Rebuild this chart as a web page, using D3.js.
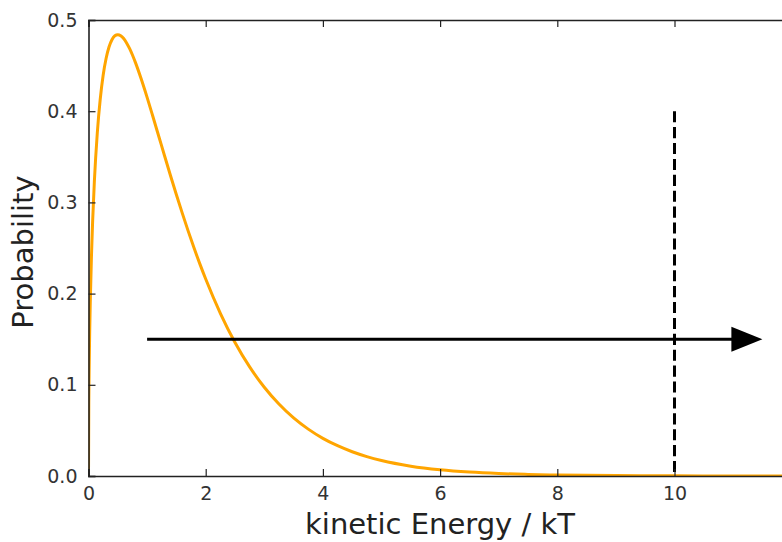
<!DOCTYPE html>
<html><head><meta charset="utf-8">
<script src="https://cdn.jsdelivr.net/npm/d3@7"></script>
<style>
html,body{margin:0;padding:0;background:#fff;}
svg{display:block;font-family:"DejaVu Sans",sans-serif;}
</style></head>
<body>
<svg id="chart" width="782" height="542"></svg>
<script>
// Energy (kT) values and read-off probabilities
const energy = [0,0.005,0.01,0.02,0.03,0.05,0.07,0.1,0.15,0.2,0.25,0.3,0.35,0.4,0.45,0.5,0.55,0.6,0.65,0.7,0.75,0.8,0.9,1.0,1.1,1.2,1.3,1.4,1.5,1.6,1.7,1.8,1.9,2.0,2.25,2.5,2.75,3.0,3.25,3.5,3.75,4.0,4.25,4.5,4.75,5.0,5.5,6.0,6.5,7.0,7.5,8.0,9.0,10.0,11.0,12.0];
const probability = [0,0.0794,0.1117,0.1564,0.1897,0.2400,0.2784,0.3229,0.3761,0.4131,0.4394,0.4578,0.4704,0.4784,0.4827,0.4839,0.4828,0.4797,0.4749,0.4688,0.4616,0.4535,0.4352,0.4151,0.3939,0.3723,0.3506,0.3292,0.3084,0.2882,0.2688,0.2502,0.2326,0.2160,0.1784,0.1464,0.1196,0.0973,0.0789,0.0637,0.0514,0.0413,0.0332,0.0266,0.0213,0.0170,0.0108,0.00685,0.00433,0.00272,0.00171,0.00107,0.00042,0.00016,0.00006,0.00002];
const xTicks = [0,2,4,6,8,10];
const yTicks = [0.0,0.1,0.2,0.3,0.4,0.5];
const arrowStart = [1, 0.15];
const arrowEnd = [11.5, 0.15];
const thresholdX = 10;
const thresholdTop = 0.4;

(function(){
const svg = d3.select("#chart");
const mLeft = 88.5, mTop = 20, mBottom = 476;
const x = d3.scaleLinear().domain([0,12]).range([mLeft, mLeft + 12*58.6]);
const y = d3.scaleLinear().domain([0,0.5]).range([mBottom, mTop]);
const W = x(12);

const defs = svg.append("defs");
defs.append("clipPath").attr("id","clip").append("rect")
  .attr("x",mLeft).attr("y",mTop).attr("width",W-mLeft).attr("height",mBottom-mTop);

// curve
svg.append("path")
  .datum(energy.map((e,i)=>[e,probability[i]]))
  .attr("clip-path","url(#clip)")
  .attr("fill","none").attr("stroke","#FFA500").attr("stroke-width",3)
  .attr("stroke-linejoin","round")
  .attr("d", d3.line().x(d=>x(d[0])).y(d=>y(d[1])).curve(d3.curveMonotoneX));

// dashed threshold line (drawn top-down like the reference)
svg.append("line")
  .attr("x1",x(thresholdX)).attr("x2",x(thresholdX))
  .attr("y1",y(thresholdTop)).attr("y2",y(0))
  .attr("stroke","#000").attr("stroke-width",3)
  .attr("stroke-dasharray","11.1,4.8");

// arrow
const headLen = 31, headHalf = 12.5;
const ax0 = x(arrowStart[0]), ax1 = x(arrowEnd[0]), ay = y(arrowStart[1]);
svg.append("line")
  .attr("x1",ax0).attr("x2",ax1-headLen+2).attr("y1",ay).attr("y2",ay)
  .attr("stroke","#000").attr("stroke-width",3);
svg.append("path")
  .attr("d",`M${ax1},${ay} L${ax1-headLen},${ay-headHalf} L${ax1-headLen},${ay+headHalf} Z`)
  .attr("fill","#000");

// axes (ticks inside)
const tickCol = "#333";
const xAxisB = svg.append("g").attr("transform",`translate(0,${mBottom})`)
  .call(d3.axisBottom(x).tickValues(xTicks).tickSize(-7).tickPadding(11).tickFormat(d3.format("d")));
const xAxisT = svg.append("g").attr("transform",`translate(0,${mTop})`)
  .call(d3.axisTop(x).tickValues(xTicks).tickSize(-7).tickFormat(""));
const yAxisL = svg.append("g").attr("transform",`translate(${mLeft},0)`)
  .call(d3.axisLeft(y).tickValues(yTicks).tickSize(-7).tickPadding(11).tickFormat(d3.format(".1f")));
[xAxisB,xAxisT,yAxisL].forEach(g=>{
  g.select(".domain").attr("stroke","#222").attr("stroke-width",1.6);
  g.selectAll(".tick line").attr("stroke","#222").attr("stroke-width",1.2);
  g.selectAll(".tick text").attr("fill",tickCol).attr("font-size",19).attr("font-family","DejaVu Sans");
});
// axis labels
svg.append("text").attr("x",(303+577)/2).attr("y",534)
  .attr("text-anchor","middle").attr("font-size",29).attr("fill","#222")
  .text("kinetic Energy / kT");
svg.append("text").attr("transform",`translate(33,${(177+327)/2}) rotate(-90)`)
  .attr("text-anchor","middle").attr("font-size",29).attr("fill","#222")
  .text("Probability");
})();
</script>
</body></html>
